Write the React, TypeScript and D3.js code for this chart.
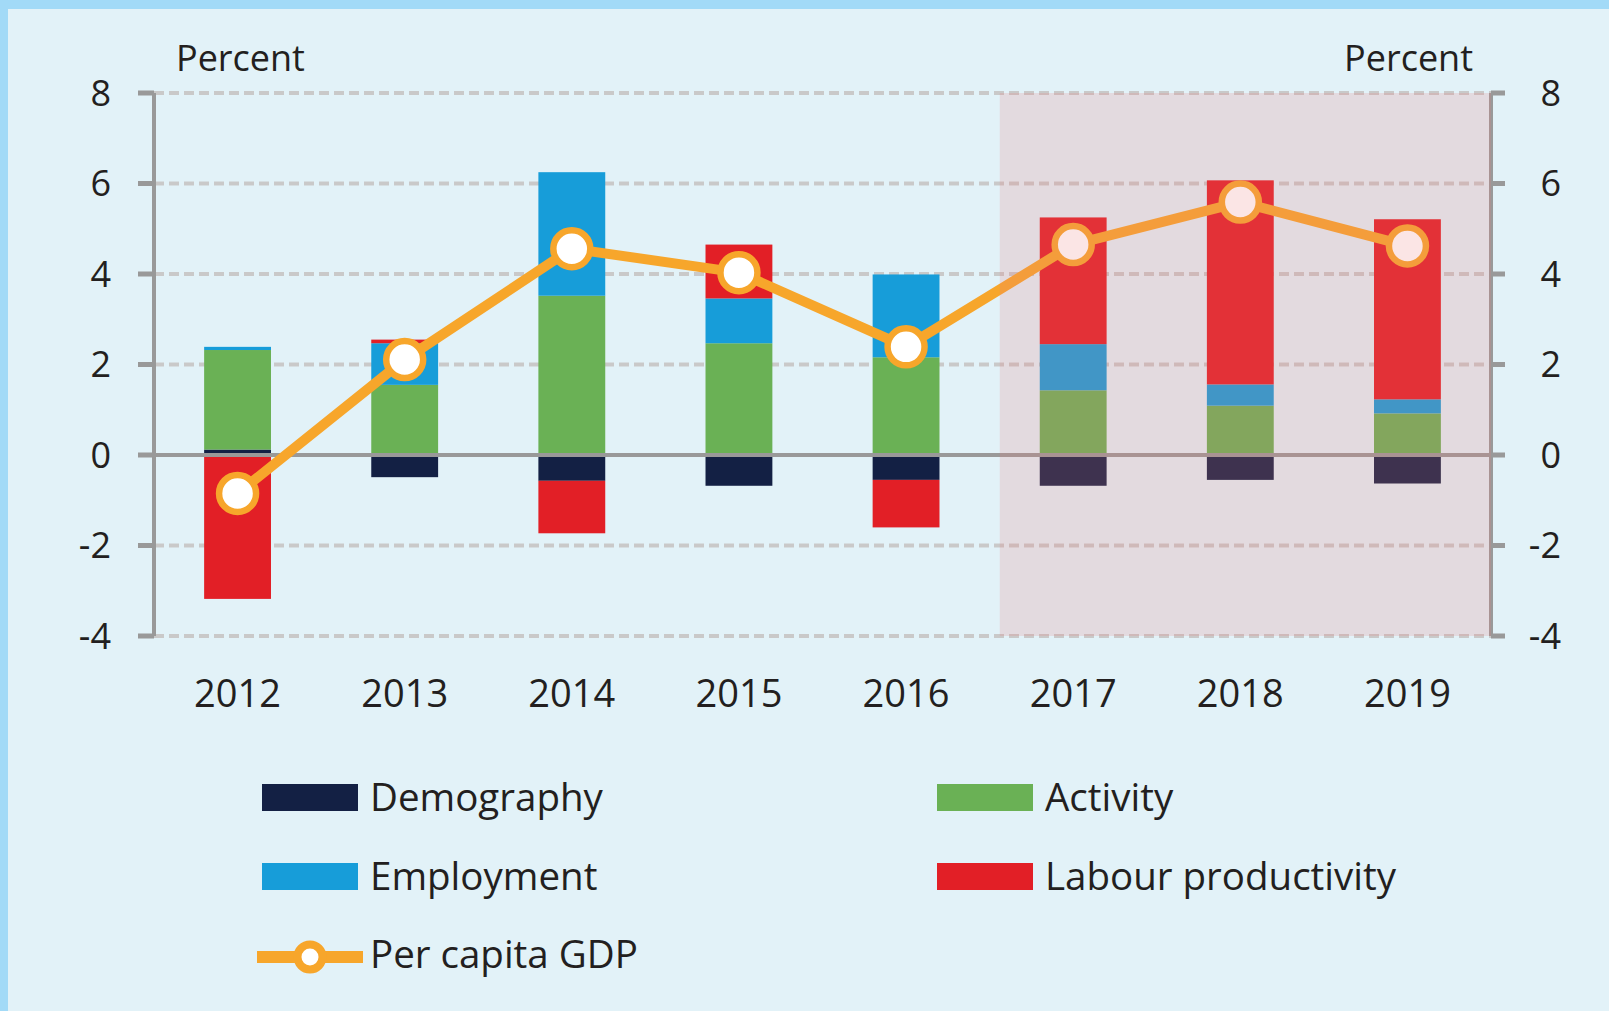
import React from "react";
import * as d3 from "d3";

const years = ["2012", "2013", "2014", "2015", "2016", "2017", "2018", "2019"];
const demography = [0.12, -0.49, -0.57, -0.68, -0.55, -0.68, -0.55, -0.63];
const activity = [2.2, 1.55, 3.52, 2.47, 2.16, 1.43, 1.09, 0.92];
const employment = [0.07, 0.92, 2.73, 0.99, 1.83, 1.02, 0.47, 0.31];
const labourProductivity = [-3.18, 0.08, -1.16, 1.19, -1.05, 2.8, 4.51, 3.98];
const perCapitaGDP = [-0.85, 2.11, 4.56, 4.03, 2.39, 4.65, 5.59, 4.62];
const yTicks = [-4, -2, 0, 2, 4, 6, 8];
const forecastStart = "2017";

const seriesKeys = ["Demography", "Activity", "Employment", "Labour productivity"];
const colors: Record<string, string> = {
  Demography: "#132044",
  Activity: "#6ab155",
  Employment: "#179dd9",
  "Labour productivity": "#e21f26",
};
const lineColor = "#f7a62b";
const FONT = "'Open Sans', 'Noto Sans', sans-serif";
const textColor = "#231f20";

export default function App() {
  const W = 1609, H = 1011;
  const left = 154, right = 1491, top = 93, bottom = 636;

  const rows = years.map((y, i) => ({
    year: y,
    Demography: demography[i],
    Activity: activity[i],
    Employment: employment[i],
    "Labour productivity": labourProductivity[i],
  }));

  const x = d3.scaleBand<string>().domain(years).range([left, right]).paddingInner(0.6).paddingOuter(0.3);
  const y = d3.scaleLinear().domain([-4, 8]).range([bottom, top]);

  const stacked = d3.stack<any>().keys(seriesKeys).offset(d3.stackOffsetDiverging)(rows);

  const cx = (yr: string) => (x(yr) as number) + x.bandwidth() / 2;
  const linePath = d3.line<number>()
    .x((_, i) => cx(years[i]))
    .y((d) => y(d))(perCapitaGDP) as string;

  const shadeX = (x(forecastStart) as number) - 40;

  const legendItems = [
    { key: "Demography", sx: 262, ty: 784 },
    { key: "Activity", sx: 937, ty: 784 },
    { key: "Employment", sx: 262, ty: 863 },
    { key: "Labour productivity", sx: 937, ty: 863 },
  ];

  return (
    <div>
      <style>{`body{margin:0;} svg{display:block;}`}</style>
      <svg width={W} height={H} viewBox={`0 0 ${W} ${H}`}>
        <rect x={0} y={0} width={W} height={H} fill="#a2daf7" />
        <rect x={8} y={9} width={W - 8} height={H - 9} fill="#e2f2f8" />

        {/* gridlines */}
        {yTicks.filter((t) => t !== 0).map((t) => (
          <line key={"g" + t} x1={left} x2={right} y1={y(t)} y2={y(t)}
            stroke="#c9c9c9" strokeWidth={4} strokeDasharray="10,5" />
        ))}

        {/* bars */}
        {stacked.map((s) => (
          <g key={s.key} fill={colors[s.key]}>
            {s.map((d, i) => (
              <rect key={i} x={x(years[i])} width={x.bandwidth()}
                y={y(Math.max(d[0], d[1]))}
                height={Math.abs(y(d[0]) - y(d[1]))} />
            ))}
          </g>
        ))}

        {/* zero line */}
        <line x1={left - 16} x2={right + 14} y1={y(0)} y2={y(0)} stroke="#999999" strokeWidth={4} />

        {/* axes */}
        <line x1={left} x2={left} y1={top} y2={bottom} stroke="#999999" strokeWidth={4} />
        <line x1={right} x2={right} y1={top} y2={bottom} stroke="#999999" strokeWidth={4} />
        {yTicks.map((t) => (
          <g key={"t" + t}>
            <line x1={left - 16} x2={left} y1={y(t)} y2={y(t)} stroke="#999999" strokeWidth={5} />
            <line x1={right} x2={right + 14} y1={y(t)} y2={y(t)} stroke="#999999" strokeWidth={5} />
            <text x={111} y={y(t)} dy="0.36em" textAnchor="end" fontFamily={FONT} fontSize={36} fill={textColor}>{t}</text>
            <text x={1561} y={y(t)} dy="0.36em" textAnchor="end" fontFamily={FONT} fontSize={36} fill={textColor}>{t}</text>
          </g>
        ))}

        {/* GDP line */}
        <path d={linePath} fill="none" stroke={lineColor} strokeWidth={10} strokeLinejoin="round" />
        {perCapitaGDP.map((v, i) => (
          <circle key={"c" + i} cx={cx(years[i])} cy={y(v)} r={18.5} fill="#ffffff" stroke={lineColor} strokeWidth={6.5} />
        ))}

        {/* forecast shading overlay */}
        <rect x={shadeX} y={top} width={right - shadeX} height={bottom - top} fill="rgb(236,125,125)" fillOpacity={0.2} />

        {/* x labels */}
        {years.map((yr) => (
          <text key={"x" + yr} x={cx(yr)} y={707} textAnchor="middle" fontFamily={FONT} fontSize={38} fill={textColor}>{yr}</text>
        ))}

        {/* axis titles */}
        <text x={176} y={71} fontFamily={FONT} fontSize={36} fill={textColor}>Percent</text>
        <text x={1473} y={71} textAnchor="end" fontFamily={FONT} fontSize={36} fill={textColor}>Percent</text>

        {/* legend */}
        {legendItems.map((it) => (
          <g key={"l" + it.key}>
            <rect x={it.sx} y={it.ty} width={96} height={27} fill={colors[it.key]} />
            <text x={it.sx + 108} y={it.ty + 27} fontFamily={FONT} fontSize={38.5} fill={textColor}>{it.key}</text>
          </g>
        ))}
        <line x1={257} x2={363} y1={957} y2={957} stroke={lineColor} strokeWidth={12} />
        <circle cx={310} cy={957} r={12.5} fill="#ffffff" stroke={lineColor} strokeWidth={8} />
        <text x={370} y={968} fontFamily={FONT} fontSize={38.5} fill={textColor}>Per capita GDP</text>
      </svg>
    </div>
  );
}
